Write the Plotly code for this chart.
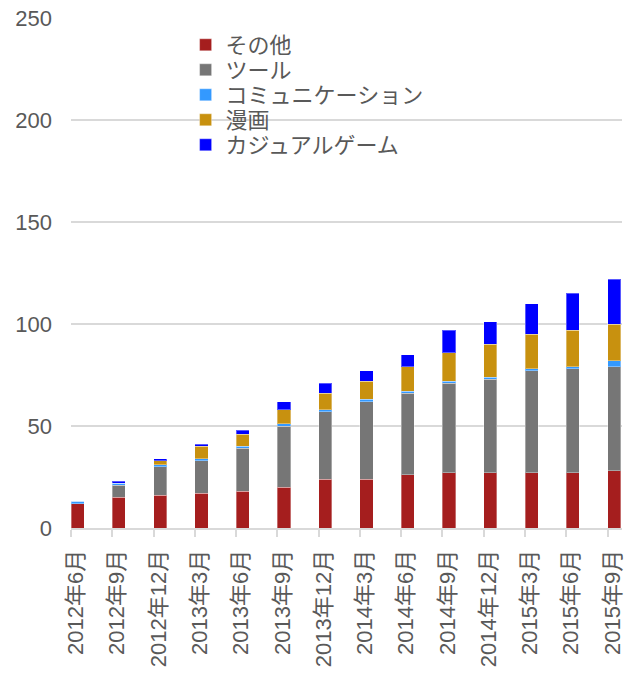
import plotly.graph_objects as go

categories = ["2012年6月", "2012年9月", "2012年12月", "2013年3月", "2013年6月", "2013年9月",
              "2013年12月", "2014年3月", "2014年6月", "2014年9月", "2014年12月", "2015年3月",
              "2015年6月", "2015年9月"]

sonota = [12, 15, 16, 17, 18, 20, 24, 24, 26, 27, 27, 27, 27, 28]
tool = [0, 6, 14, 16, 21, 30, 33, 38, 40, 44, 46, 50, 51, 51]
communication = [1, 1, 1, 1, 1, 1, 1, 1, 1, 1, 1, 1, 1, 3]
manga = [0, 0, 2, 6, 6, 7, 8, 9, 12, 14, 16, 17, 18, 18]
casual = [0, 1, 1, 1, 2, 4, 5, 5, 6, 11, 11, 15, 18, 22]

series = [
    ("その他", sonota, "#a51e1e"),
    ("ツール", tool, "#767676"),
    ("コミュニケーション", communication, "#3399ff"),
    ("漫画", manga, "#c8910f"),
    ("カジュアルゲーム", casual, "#0000ff"),
]

FONT = "Liberation Sans, Arial, Noto Sans CJK JP, sans-serif"
TXT = "#595959"
GRID = "#d9d9d9"

fig = go.Figure()
legend_names = ["legend", "legend2", "legend3", "legend4", "legend5"]
for (name, vals, color), lg in zip(series, legend_names):
    fig.add_trace(go.Bar(
        x=categories, y=vals, name=name,
        marker=dict(color=color, line=dict(color="rgba(255,255,255,0.35)", width=1)),
        width=0.32, offset=0, legend=lg,
    ))

legend_ys = [45, 70, 95, 120, 145]
plot_top, plot_bottom = 18, 528
legend_layout = {}
for lg, ypix in zip(legend_names, legend_ys):
    legend_layout[lg] = dict(
        x=0.208, xanchor="left",
        y=(plot_bottom - ypix) / (plot_bottom - plot_top), yanchor="middle",
        bgcolor="rgba(0,0,0,0)", borderwidth=0,
        font=dict(family=FONT, size=22, color=TXT),
    )

fig.update_layout(
    barmode="stack",
    width=625, height=674,
    margin=dict(l=71, r=0, t=18, b=146),
    paper_bgcolor="white", plot_bgcolor="white",
    font=dict(family=FONT, size=22, color=TXT),
    showlegend=True,
    **legend_layout,
)

fig.update_xaxes(
    type="category", range=[0, 13.35],
    tickangle=-90, ticks="outside", ticklen=7, tickcolor=GRID, tickwidth=1.5,
    showline=True, linecolor=GRID, linewidth=2,
    showgrid=False, ticklabelshift=5, ticklabelstandoff=4,
    tickfont=dict(family=FONT, size=22, color=TXT),
)
fig.update_yaxes(
    range=[0, 250], tickvals=[0, 50, 100, 150, 200, 250],
    showgrid=True, gridcolor=GRID, gridwidth=1.5, zeroline=False,
    ticks="", ticklabelstandoff=18,
    tickfont=dict(family=FONT, size=22, color=TXT),
)

fig.write_html("out.html")
